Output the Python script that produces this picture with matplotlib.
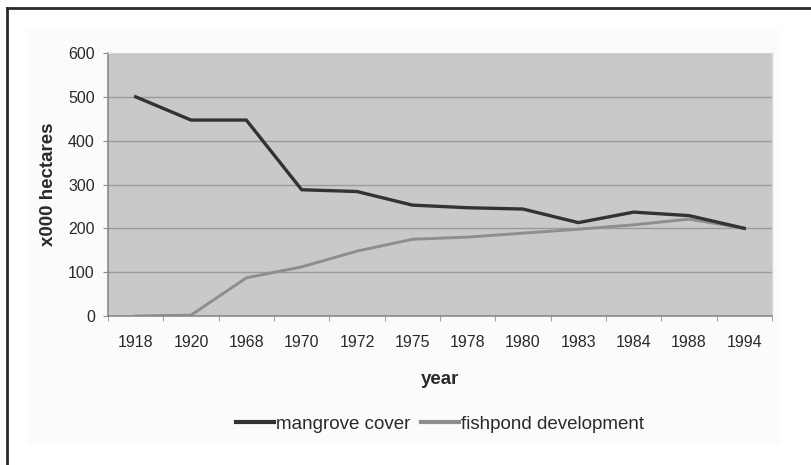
import matplotlib
matplotlib.use("Agg")
import matplotlib.pyplot as plt
from matplotlib.lines import Line2D
from matplotlib.patches import Rectangle
from matplotlib.ticker import MultipleLocator, FixedLocator

years = ["1918", "1920", "1968", "1970", "1972", "1975", "1978", "1980", "1983", "1984", "1988", "1994"]
mangrove = [500, 447, 447, 288, 284, 253, 247, 244, 213, 237, 229, 200]
fishpond = [0, 2, 87, 112, 148, 175, 180, 189, 198, 208, 221, 200]
series_names = ["mangrove cover", "fishpond development"]

plt.rcParams['font.family'] = ['Liberation Sans', 'DejaVu Sans']

fig = plt.figure(figsize=(8.12, 4.65), dpi=100)
fig.patch.set_facecolor("white")

# chart area background
fig.patches.append(Rectangle((27/812, 1-445/465), (780-27)/812, (445-30)/465,
                             transform=fig.transFigure, facecolor="#fbfbfb",
                             edgecolor="none", zorder=-5))
# outer frame (top and left)
fig.lines.append(Line2D([7/812, 7/812], [0, 1-8/465], transform=fig.transFigure,
                        color="#2a2a2a", lw=2, zorder=-4))
fig.lines.append(Line2D([7/812, 1], [1-8/465, 1-8/465], transform=fig.transFigure,
                        color="#2a2a2a", lw=2, zorder=-4))

ax = fig.add_axes([108/812, 1-316/465, (772-108)/812, (316-53)/465])
ax.set_zorder(1)
ax.set_facecolor("#c8c9cb")

x = list(range(len(years)))
ax.plot(x, mangrove, color="#333333", lw=2.4, solid_joinstyle="round", zorder=3)
ax.plot(x, fishpond, color="#8e8e8e", lw=2.1, solid_joinstyle="round", zorder=2)

ax.set_xlim(-0.5, len(years) - 0.5)
ax.set_ylim(0, 600)
ax.yaxis.set_major_locator(MultipleLocator(100))
ax.grid(axis="y", color="#9a9a9a", lw=1.0)
ax.set_axisbelow(True)

ax.set_xticks(x)
ax.set_xticklabels(years)
ax.xaxis.set_minor_locator(FixedLocator([i + 0.5 for i in range(-1, len(years))]))
ax.tick_params(axis="x", which="major", length=0, pad=13.5, labelsize=11.5, labelcolor="#2a2a2a")
ax.tick_params(axis="x", which="minor", length=3.5, color="#8a8a8a", direction="out")
ax.tick_params(axis="y", which="major", length=3.5, color="#8a8a8a", pad=6,
               labelsize=11.5, labelcolor="#2a2a2a")

for s in ["top", "right"]:
    ax.spines[s].set_color("#d8d8d8")
    ax.spines[s].set_linewidth(1)
for s in ["left", "bottom"]:
    ax.spines[s].set_color("#8a8a8a")
    ax.spines[s].set_linewidth(1.2)

ax.set_xlabel("year", fontsize=13.5, fontweight="bold", color="#2a2a2a", labelpad=15)
ax.set_ylabel("x000 hectares", fontsize=13.5, fontweight="bold", color="#2a2a2a", labelpad=8)

handles = [Line2D([], [], color="#333333", lw=3), Line2D([], [], color="#8e8e8e", lw=3)]
fig.legend(handles, series_names, loc="center", bbox_to_anchor=(440/812, 1-424/465),
           ncol=2, frameon=False, fontsize=13.5, handlelength=2.0, handletextpad=0.1,
           columnspacing=0.6, labelcolor="#2a2a2a")

fig.savefig("out.png", dpi=100)
